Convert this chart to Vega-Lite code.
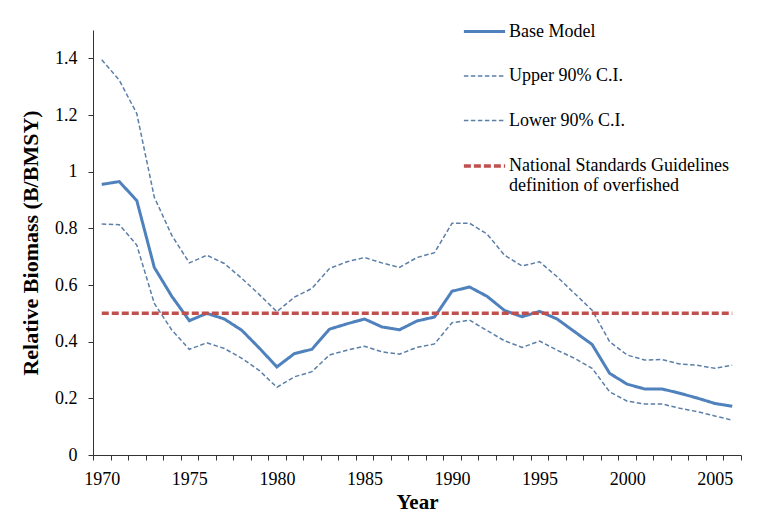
{
  "$schema": "https://vega.github.io/schema/vega-lite/v6.json",
  "width": 648,
  "height": 425,
  "autosize": {"type": "none"},
  "padding": {"left": 93, "top": 30, "right": 24, "bottom": 60},
  "background": "white",
  "config": {"view": {"stroke": null}, "font": "Times New Roman", "text": {"font": "Times New Roman"}},
  "data": {"values": [
    {"year":1970,"series":"Base Model","value":0.955},
    {"year":1971,"series":"Base Model","value":0.965},
    {"year":1972,"series":"Base Model","value":0.898},
    {"year":1973,"series":"Base Model","value":0.662},
    {"year":1974,"series":"Base Model","value":0.56},
    {"year":1975,"series":"Base Model","value":0.474},
    {"year":1976,"series":"Base Model","value":0.5},
    {"year":1977,"series":"Base Model","value":0.48},
    {"year":1978,"series":"Base Model","value":0.44},
    {"year":1979,"series":"Base Model","value":0.377},
    {"year":1980,"series":"Base Model","value":0.311},
    {"year":1981,"series":"Base Model","value":0.358},
    {"year":1982,"series":"Base Model","value":0.373},
    {"year":1983,"series":"Base Model","value":0.444},
    {"year":1984,"series":"Base Model","value":0.463},
    {"year":1985,"series":"Base Model","value":0.48},
    {"year":1986,"series":"Base Model","value":0.452},
    {"year":1987,"series":"Base Model","value":0.442},
    {"year":1988,"series":"Base Model","value":0.473},
    {"year":1989,"series":"Base Model","value":0.487},
    {"year":1990,"series":"Base Model","value":0.578},
    {"year":1991,"series":"Base Model","value":0.593},
    {"year":1992,"series":"Base Model","value":0.56},
    {"year":1993,"series":"Base Model","value":0.51},
    {"year":1994,"series":"Base Model","value":0.488},
    {"year":1995,"series":"Base Model","value":0.507},
    {"year":1996,"series":"Base Model","value":0.48},
    {"year":1997,"series":"Base Model","value":0.435},
    {"year":1998,"series":"Base Model","value":0.39},
    {"year":1999,"series":"Base Model","value":0.288},
    {"year":2000,"series":"Base Model","value":0.25},
    {"year":2001,"series":"Base Model","value":0.233},
    {"year":2002,"series":"Base Model","value":0.233},
    {"year":2003,"series":"Base Model","value":0.218},
    {"year":2004,"series":"Base Model","value":0.201},
    {"year":2005,"series":"Base Model","value":0.182},
    {"year":2006,"series":"Base Model","value":0.172},
    {"year":1970,"series":"Upper 90% C.I.","value":1.395},
    {"year":1971,"series":"Upper 90% C.I.","value":1.323},
    {"year":1972,"series":"Upper 90% C.I.","value":1.205},
    {"year":1973,"series":"Upper 90% C.I.","value":0.91},
    {"year":1974,"series":"Upper 90% C.I.","value":0.775},
    {"year":1975,"series":"Upper 90% C.I.","value":0.678},
    {"year":1976,"series":"Upper 90% C.I.","value":0.705},
    {"year":1977,"series":"Upper 90% C.I.","value":0.676},
    {"year":1978,"series":"Upper 90% C.I.","value":0.623},
    {"year":1979,"series":"Upper 90% C.I.","value":0.566},
    {"year":1980,"series":"Upper 90% C.I.","value":0.506},
    {"year":1981,"series":"Upper 90% C.I.","value":0.557},
    {"year":1982,"series":"Upper 90% C.I.","value":0.588},
    {"year":1983,"series":"Upper 90% C.I.","value":0.658},
    {"year":1984,"series":"Upper 90% C.I.","value":0.682},
    {"year":1985,"series":"Upper 90% C.I.","value":0.697},
    {"year":1986,"series":"Upper 90% C.I.","value":0.678},
    {"year":1987,"series":"Upper 90% C.I.","value":0.662},
    {"year":1988,"series":"Upper 90% C.I.","value":0.697},
    {"year":1989,"series":"Upper 90% C.I.","value":0.714},
    {"year":1990,"series":"Upper 90% C.I.","value":0.818},
    {"year":1991,"series":"Upper 90% C.I.","value":0.818},
    {"year":1992,"series":"Upper 90% C.I.","value":0.78},
    {"year":1993,"series":"Upper 90% C.I.","value":0.705},
    {"year":1994,"series":"Upper 90% C.I.","value":0.667},
    {"year":1995,"series":"Upper 90% C.I.","value":0.682},
    {"year":1996,"series":"Upper 90% C.I.","value":0.629},
    {"year":1997,"series":"Upper 90% C.I.","value":0.57},
    {"year":1998,"series":"Upper 90% C.I.","value":0.511},
    {"year":1999,"series":"Upper 90% C.I.","value":0.4},
    {"year":2000,"series":"Upper 90% C.I.","value":0.353},
    {"year":2001,"series":"Upper 90% C.I.","value":0.335},
    {"year":2002,"series":"Upper 90% C.I.","value":0.337},
    {"year":2003,"series":"Upper 90% C.I.","value":0.321},
    {"year":2004,"series":"Upper 90% C.I.","value":0.317},
    {"year":2005,"series":"Upper 90% C.I.","value":0.306},
    {"year":2006,"series":"Upper 90% C.I.","value":0.317},
    {"year":1970,"series":"Lower 90% C.I.","value":0.815},
    {"year":1971,"series":"Lower 90% C.I.","value":0.813},
    {"year":1972,"series":"Lower 90% C.I.","value":0.741},
    {"year":1973,"series":"Lower 90% C.I.","value":0.535},
    {"year":1974,"series":"Lower 90% C.I.","value":0.441},
    {"year":1975,"series":"Lower 90% C.I.","value":0.373},
    {"year":1976,"series":"Lower 90% C.I.","value":0.396},
    {"year":1977,"series":"Lower 90% C.I.","value":0.376},
    {"year":1978,"series":"Lower 90% C.I.","value":0.341},
    {"year":1979,"series":"Lower 90% C.I.","value":0.298},
    {"year":1980,"series":"Lower 90% C.I.","value":0.239},
    {"year":1981,"series":"Lower 90% C.I.","value":0.276},
    {"year":1982,"series":"Lower 90% C.I.","value":0.294},
    {"year":1983,"series":"Lower 90% C.I.","value":0.353},
    {"year":1984,"series":"Lower 90% C.I.","value":0.37},
    {"year":1985,"series":"Lower 90% C.I.","value":0.384},
    {"year":1986,"series":"Lower 90% C.I.","value":0.364},
    {"year":1987,"series":"Lower 90% C.I.","value":0.356},
    {"year":1988,"series":"Lower 90% C.I.","value":0.38},
    {"year":1989,"series":"Lower 90% C.I.","value":0.392},
    {"year":1990,"series":"Lower 90% C.I.","value":0.467},
    {"year":1991,"series":"Lower 90% C.I.","value":0.476},
    {"year":1992,"series":"Lower 90% C.I.","value":0.439},
    {"year":1993,"series":"Lower 90% C.I.","value":0.403},
    {"year":1994,"series":"Lower 90% C.I.","value":0.38},
    {"year":1995,"series":"Lower 90% C.I.","value":0.402},
    {"year":1996,"series":"Lower 90% C.I.","value":0.37},
    {"year":1997,"series":"Lower 90% C.I.","value":0.341},
    {"year":1998,"series":"Lower 90% C.I.","value":0.306},
    {"year":1999,"series":"Lower 90% C.I.","value":0.223},
    {"year":2000,"series":"Lower 90% C.I.","value":0.19},
    {"year":2001,"series":"Lower 90% C.I.","value":0.18},
    {"year":2002,"series":"Lower 90% C.I.","value":0.18},
    {"year":2003,"series":"Lower 90% C.I.","value":0.165},
    {"year":2004,"series":"Lower 90% C.I.","value":0.153},
    {"year":2005,"series":"Lower 90% C.I.","value":0.138},
    {"year":2006,"series":"Lower 90% C.I.","value":0.123},
    {"year":1970,"series":"National Standards Guidelines definition of overfished","value":0.5},
    {"year":2006,"series":"National Standards Guidelines definition of overfished","value":0.5}
  ]},
  "mark": {"type": "line"},
  "encoding": {
    "x": {
      "field": "year", "type": "quantitative",
      "scale": {"domain": [1969.5, 2006.5], "nice": false, "zero": false},
      "axis": {
        "title": "Year",
        "values": [1969.5,1970.5,1971.5,1972.5,1973.5,1974.5,1975.5,1976.5,1977.5,1978.5,1979.5,1980.5,1981.5,1982.5,1983.5,1984.5,1985.5,1986.5,1987.5,1988.5,1989.5,1990.5,1991.5,1992.5,1993.5,1994.5,1995.5,1996.5,1997.5,1998.5,1999.5,2000.5,2001.5,2002.5,2003.5,2004.5,2005.5,2006.5],
        "labelExpr": "(datum.value + 0.5) % 5 == 0 ? format(datum.value + 0.5, 'd') : ''",
        "labelOffset": 8.75,
        "labelFlush": false,
        "labelOverlap": false,
        "grid": false,
        "tickSize": 5,
        "tickColor": "#333333",
        "domainColor": "#333333",
        "labelFont": "Times New Roman",
        "labelFontSize": 18,
        "labelColor": "black",
        "labelPadding": 10,
        "titleFont": "Times New Roman",
        "titleFontSize": 21,
        "titleFontWeight": "bold",
        "titleColor": "black",
        "titlePadding": 3
      }
    },
    "y": {
      "field": "value", "type": "quantitative",
      "scale": {"domain": [0, 1.5], "nice": false},
      "axis": {
        "title": "Relative Biomass (B/BMSY)",
        "values": [0, 0.2, 0.4, 0.6, 0.8, 1, 1.2, 1.4],
        "format": "~g",
        "grid": false,
        "tickSize": 5,
        "tickColor": "#333333",
        "domainColor": "#333333",
        "labelFont": "Times New Roman",
        "labelFontSize": 18,
        "labelColor": "black",
        "labelPadding": 11,
        "titleFont": "Times New Roman",
        "titleFontSize": 22,
        "titleFontWeight": "bold",
        "titleColor": "black",
        "titlePadding": 12
      }
    },
    "color": {
      "field": "series", "type": "nominal",
      "scale": {"domain": ["Base Model", "Upper 90% C.I.", "Lower 90% C.I.", "National Standards Guidelines definition of overfished"], "range": ["#4F81BD", "#5B7FA8", "#5B7FA8", "#C0504D"]},
      "legend": {"title": null, "orient": "none", "legendX": 369, "legendY": -21, "symbolType": "stroke", "symbolSize": 1700, "labelFont": "Times New Roman", "labelFontSize": 18, "labelColor": "black", "labelLimit": 400, "rowPadding": 13.5, "labelOffset": 2,
        "labelExpr": "datum.label == 'National Standards Guidelines definition of overfished' ? ['National Standards Guidelines', 'definition of overfished'] : datum.label"}
    },
    "strokeDash": {
      "field": "series", "type": "nominal",
      "scale": {"domain": ["Base Model", "Upper 90% C.I.", "Lower 90% C.I.", "National Standards Guidelines definition of overfished"], "range": [[1, 0], [4.5, 2.5], [4.5, 2.5], [7, 3]]},
      "legend": {"title": null, "orient": "none", "legendX": 369, "legendY": -21, "symbolType": "stroke", "symbolSize": 1700, "labelFont": "Times New Roman", "labelFontSize": 18, "labelColor": "black", "labelLimit": 400, "rowPadding": 13.5, "labelOffset": 2,
        "labelExpr": "datum.label == 'National Standards Guidelines definition of overfished' ? ['National Standards Guidelines', 'definition of overfished'] : datum.label"}
    },
    "strokeWidth": {
      "field": "series", "type": "ordinal",
      "scale": {"type": "ordinal", "domain": ["Base Model", "Upper 90% C.I.", "Lower 90% C.I.", "National Standards Guidelines definition of overfished"], "range": [3, 1.5, 1.5, 3.5]},
      "legend": {"title": null, "orient": "none", "legendX": 369, "legendY": -21, "symbolType": "stroke", "symbolSize": 1700, "labelFont": "Times New Roman", "labelFontSize": 18, "labelColor": "black", "labelLimit": 400, "rowPadding": 13.5, "labelOffset": 2,
        "labelExpr": "datum.label == 'National Standards Guidelines definition of overfished' ? ['National Standards Guidelines', 'definition of overfished'] : datum.label"}
    }
  }
}
